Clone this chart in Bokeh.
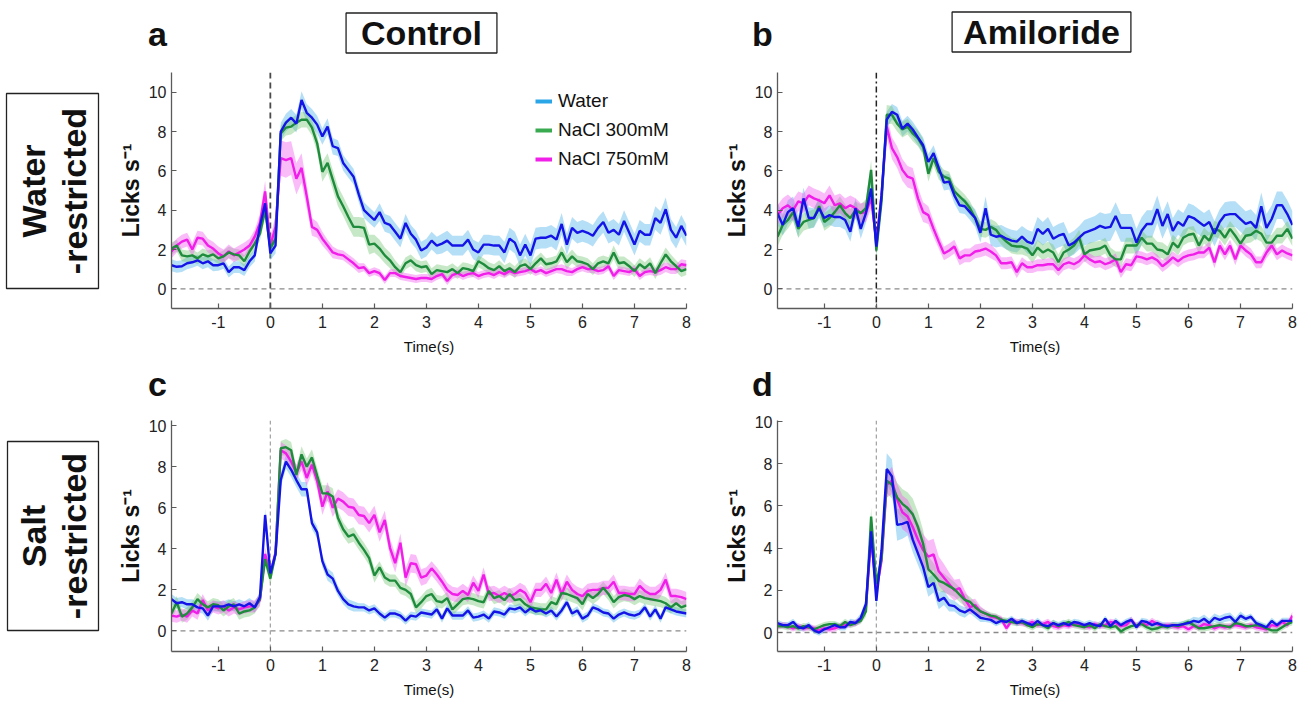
from bokeh.plotting import figure
from bokeh.layouts import row, column
from bokeh.models import Range1d, FixedTicker, Span, Label, Legend, LegendItem, BoxAnnotation
from bokeh.embed import file_html
from bokeh.resources import INLINE

# ---------------- data (licks per second, 0.1 s bins) ----------------
time_s = [round(-1.9 + 0.1 * i, 1) for i in range(100)]
x_ticks = [-1, 0, 1, 2, 3, 4, 5, 6, 7, 8]
y_ticks = [0, 2, 4, 6, 8, 10]
series_labels = ["Water", "NaCl 300mM", "NaCl 750mM"]

# panel a : Control, water-restricted
a_water = [1.2, 1.12, 1.15, 1.3, 1.35, 1.45, 1.3, 1.4, 1.2, 1.2,
           1.3, 0.85, 1.1, 1.1, 0.95, 1.4, 1.7, 3.2, 4.35, 1.8,
           2.2, 8.0, 8.45, 8.7, 8.4, 9.6, 8.95, 8.7, 8.35, 7.75,
           8.25, 7.25, 7.15, 6.4, 6.05, 5.7, 4.8, 4.0, 3.75, 3.5,
           3.9, 3.35, 3.25, 2.9, 2.55, 3.35, 2.8, 2.5, 1.95, 2.1,
           2.45, 2.2, 2.3, 2.45, 2.2, 2.2, 2.2, 2.5, 2.0, 1.85,
           2.25, 2.25, 2.2, 2.2, 1.85, 2.55, 2.35, 1.7, 2.25, 1.7,
           2.55, 2.6, 2.6, 2.7, 2.5, 3.3, 2.25, 3.1, 2.85, 2.95,
           2.85, 2.7, 3.1, 3.4, 2.85, 3.0, 2.75, 3.45, 2.85, 2.25,
           2.95, 2.75, 2.75, 3.6, 3.35, 4.05, 3.0, 2.6, 3.2, 2.7]
a_nacl300 = [2.05, 2.2, 1.7, 1.65, 1.7, 1.55, 1.75, 1.65, 1.75, 1.55,
             1.65, 1.85, 1.75, 1.7, 1.4, 1.9, 2.3, 2.8, 4.0, 2.05,
             2.55, 7.9, 8.2, 8.25, 8.45, 8.6, 8.6, 8.2, 7.4, 5.95,
             6.4, 5.55, 4.7, 4.2, 3.65, 3.15, 3.15, 3.1, 2.25, 2.3,
             2.05, 1.7, 1.45, 1.1, 0.85, 1.3, 1.45, 1.2, 1.1, 1.15,
             0.75, 0.95, 0.9, 0.85, 1.0, 0.8, 1.05, 1.0, 0.9, 1.4,
             1.25, 1.05, 0.95, 1.15, 0.9, 1.05, 0.85, 1.15, 1.25, 1.0,
             1.3, 1.55, 1.25, 1.3, 1.4, 1.85, 1.35, 1.65, 1.4, 1.35,
             1.25, 1.0, 1.3, 1.4, 1.3, 1.85, 1.3, 1.35, 1.15, 0.9,
             1.25, 1.05, 1.3, 0.8, 1.3, 1.75, 1.4, 1.15, 0.9, 1.0]
a_nacl750 = [1.9, 2.2, 2.4, 2.5, 2.0, 2.6, 2.55, 2.2, 2.05, 1.8,
             1.65, 1.9, 1.7, 1.85, 2.0, 2.2, 2.65, 3.35, 4.95, 2.2,
             3.15, 6.65, 6.55, 6.65, 5.6, 6.15, 4.7, 3.15, 3.0, 2.55,
             2.2, 1.85, 1.75, 1.7, 1.5, 1.3, 1.05, 1.1, 0.8, 0.9,
             0.8, 0.45, 0.8, 0.8, 0.65, 0.6, 0.55, 0.5, 0.55, 0.55,
             0.5, 0.65, 0.75, 0.4, 0.7, 0.8, 0.65, 0.75, 0.8, 0.65,
             0.75, 0.8, 0.7, 0.85, 0.75, 0.9, 0.8, 0.85, 0.9, 1.0,
             0.85, 0.95, 0.8, 0.9, 1.0, 1.0, 0.9, 0.85, 1.0, 1.1,
             1.0, 1.0, 0.9, 0.95, 1.15, 0.65, 0.95, 0.9, 0.85, 1.0,
             0.65, 0.85, 0.9, 0.85, 0.95, 1.1, 1.0, 1.0, 1.25, 1.2]
a_water_sem = [.30, .30, .30, .30, .28, .28, .30, .30, .30, .28,
               .28, .28, .30, .30, .30, .30, .32, .40, .45, .35,
               .40, .45, .45, .45, .45, .45, .45, .45, .45, .42,
               .42, .42, .40, .40, .40, .40, .40, .40, .40, .40,
               .45, .45, .45, .45, .45, .45, .45, .45, .45, .45,
               .45, .45, .50, .50, .50, .50, .50, .50, .50, .50,
               .50, .50, .50, .50, .55, .55, .55, .55, .55, .55,
               .55, .55, .55, .55, .55, .55, .55, .55, .55, .55,
               .55, .55, .55, .55, .55, .55, .55, .55, .55, .55,
               .55, .55, .55, .60, .60, .60, .55, .55, .55, .55]
a_nacl300_sem = [.30, .30, .30, .30, .30, .30, .30, .30, .30, .30,
                 .30, .30, .30, .30, .30, .30, .30, .35, .40, .35,
                 .35, .40, .40, .40, .40, .40, .40, .40, .45, .50,
                 .50, .50, .50, .50, .50, .50, .50, .50, .50, .45,
                 .45, .40, .40, .35, .30, .30, .30, .30, .30, .30,
                 .30, .30, .30, .30, .30, .30, .30, .30, .30, .30,
                 .30, .30, .30, .30, .30, .30, .30, .30, .30, .30,
                 .30, .30, .30, .30, .30, .35, .35, .35, .30, .30,
                 .30, .30, .30, .30, .30, .35, .35, .30, .30, .30,
                 .30, .30, .30, .30, .30, .35, .35, .30, .30, .30]
a_nacl750_sem = [.35, .35, .35, .35, .35, .35, .35, .35, .35, .35,
                 .35, .35, .35, .35, .35, .35, .35, .45, .55, .40,
                 .60, .90, .90, .85, .80, .75, .60, .45, .40, .35,
                 .30, .30, .25, .25, .25, .25, .25, .20, .20, .20,
                 .20, .20, .20, .20, .20, .20, .20, .20, .20, .20,
                 .20, .20, .20, .20, .20, .20, .20, .20, .20, .20,
                 .20, .20, .20, .20, .20, .20, .20, .20, .20, .20,
                 .20, .20, .20, .20, .20, .25, .25, .20, .20, .20,
                 .20, .20, .20, .20, .20, .20, .20, .20, .20, .20,
                 .20, .20, .20, .20, .25, .25, .25, .25, .25, .25]

# panel b : Amiloride, water-restricted
b_water = [3.85, 3.25, 3.9, 4.1, 3.15, 4.6, 3.6, 3.6, 4.1, 3.6,
           3.75, 3.65, 3.65, 3.5, 2.9, 4.1, 3.05, 3.85, 5.1, 2.15,
           4.75, 8.6, 9.0, 8.85, 8.15, 8.4, 8.1, 7.7, 7.3, 6.45,
           6.9, 6.15, 5.4, 5.45, 4.75, 4.25, 4.2, 3.9, 3.6, 2.85,
           4.1, 2.75, 2.65, 2.7, 2.55, 2.45, 2.4, 2.65, 2.4, 2.3,
           3.05, 2.8, 3.05, 2.55, 2.7, 2.8, 2.2, 2.35, 2.6, 2.85,
           2.95, 3.05, 3.2, 3.1, 3.15, 3.7, 3.1, 3.1, 3.1, 2.35,
           2.95, 3.3, 3.3, 4.05, 3.2, 3.8, 2.95, 3.4, 3.2, 3.7,
           3.6, 3.4, 3.2, 3.4, 2.8, 3.4, 3.75, 3.8, 3.8, 3.55,
           3.3, 3.4, 3.1, 4.2, 3.1, 3.55, 4.25, 4.25, 3.8, 3.25]
b_nacl300 = [2.65, 3.25, 3.5, 3.9, 3.05, 3.4, 3.5, 3.6, 4.2, 3.4,
             3.6, 3.9, 4.25, 3.85, 3.6, 4.0, 3.85, 4.1, 6.05, 1.95,
             4.45, 8.85, 8.85, 8.4, 8.1, 8.25, 7.9, 7.65, 7.2, 5.85,
             6.65, 5.95, 5.7, 5.6, 4.95, 4.7, 4.45, 4.1, 3.6, 3.05,
             3.0, 3.15, 3.0, 2.65, 2.4, 2.2, 2.15, 2.15, 2.05, 1.7,
             2.1, 1.85, 2.0, 1.85, 1.35, 1.85, 2.0, 2.2, 2.6, 1.75,
             1.95, 2.0, 2.05, 2.2, 1.7, 1.5, 1.5, 2.2, 2.2, 2.2,
             2.6, 2.3, 2.3, 2.0, 1.95, 1.75, 2.35, 2.1, 2.6, 2.75,
             2.8, 2.2, 2.7, 2.45, 3.05, 2.95, 2.6, 3.05, 2.7, 2.3,
             2.7, 2.75, 2.95, 2.8, 2.35, 2.35, 2.7, 2.7, 3.05, 2.55]
b_nacl750 = [3.75, 4.1, 4.25, 4.0, 4.45, 4.35, 4.75, 4.6, 4.5, 4.35,
             4.75, 4.25, 4.35, 4.1, 4.25, 4.1, 3.85, 3.9, 4.6, 2.4,
             4.75, 8.25, 7.15, 6.7, 6.05, 5.7, 5.6, 4.6, 3.9, 3.75,
             3.05, 2.4, 1.8, 1.95, 2.15, 1.55, 1.7, 1.7, 1.9, 1.95,
             2.05, 1.9, 1.7, 1.3, 1.3, 1.35, 0.85, 1.3, 1.1, 1.1,
             1.2, 1.2, 1.25, 1.25, 0.95, 1.25, 1.35, 1.25, 1.4, 1.7,
             1.5, 1.35, 1.4, 1.25, 1.35, 1.5, 0.85, 1.25, 1.2, 1.65,
             1.6, 1.5, 1.6, 1.45, 1.15, 1.35, 1.6, 1.4, 1.6, 1.7,
             1.75, 1.85, 1.85, 2.1, 1.35, 2.2, 1.75, 2.2, 1.5, 2.2,
             1.95, 1.75, 1.35, 1.35, 1.85, 2.2, 1.75, 1.95, 1.8, 1.7]
b_water_sem = [.55, .55, .60, .60, .55, .55, .55, .50, .50, .50,
               .50, .50, .50, .50, .50, .50, .50, .50, .55, .40,
               .45, .40, .40, .40, .40, .40, .40, .40, .40, .40,
               .40, .40, .40, .40, .40, .40, .40, .40, .45, .50,
               .60, .55, .55, .55, .55, .55, .55, .55, .60, .60,
               .60, .60, .60, .60, .60, .60, .60, .60, .60, .65,
               .65, .65, .70, .70, .70, .70, .70, .70, .70, .70,
               .70, .70, .70, .70, .65, .65, .65, .65, .65, .65,
               .65, .65, .65, .65, .65, .65, .65, .65, .65, .65,
               .65, .65, .65, .70, .70, .70, .70, .70, .70, .70]
b_nacl300_sem = [.50, .50, .45, .45, .45, .45, .45, .45, .45, .45,
                 .45, .45, .45, .45, .45, .45, .45, .45, .50, .40,
                 .40, .50, .45, .40, .40, .40, .40, .40, .40, .40,
                 .40, .40, .35, .35, .35, .35, .35, .35, .35, .40,
                 .40, .40, .40, .40, .40, .40, .40, .40, .40, .40,
                 .40, .40, .40, .40, .40, .40, .40, .40, .40, .40,
                 .40, .40, .40, .40, .40, .40, .40, .40, .40, .40,
                 .40, .40, .40, .40, .40, .40, .40, .40, .40, .40,
                 .40, .40, .40, .40, .40, .40, .40, .40, .40, .40,
                 .40, .40, .40, .40, .40, .40, .40, .40, .40, .40]
b_nacl750_sem = [.50, .50, .55, .55, .50, .50, .50, .50, .50, .50,
                 .50, .50, .50, .50, .50, .50, .50, .50, .50, .40,
                 .45, .55, .55, .55, .55, .55, .55, .55, .50, .45,
                 .40, .35, .35, .35, .35, .35, .35, .35, .35, .35,
                 .35, .35, .30, .30, .30, .30, .30, .30, .30, .30,
                 .30, .30, .30, .30, .30, .30, .30, .30, .30, .30,
                 .30, .30, .30, .30, .30, .30, .30, .30, .30, .30,
                 .30, .30, .30, .30, .30, .30, .30, .30, .30, .30,
                 .30, .30, .30, .30, .30, .30, .30, .30, .30, .30,
                 .30, .30, .30, .30, .30, .30, .30, .30, .30, .30]

# panel c : Control, salt-restricted
c_water = [1.55, 1.35, 1.4, 1.3, 1.3, 1.15, 1.1, 0.75, 1.2, 1.2,
           1.2, 1.3, 1.2, 1.3, 1.2, 1.35, 1.15, 1.65, 5.65, 2.8,
           3.75, 7.35, 8.25, 7.85, 7.35, 6.9, 6.9, 5.25, 4.8, 3.4,
           2.75, 2.55, 1.95, 1.55, 1.3, 1.2, 1.15, 1.15, 1.0, 1.1,
           0.85, 0.65, 0.85, 0.85, 0.75, 0.5, 0.75, 0.7, 0.9, 0.85,
           0.8, 1.05, 0.6, 1.1, 0.75, 0.75, 0.75, 1.0, 0.65, 0.7,
           0.8, 0.6, 0.95, 0.9, 0.8, 1.1, 1.05, 1.15, 0.9, 1.1,
           0.95, 1.0, 0.85, 1.0, 0.7, 1.0, 1.4, 0.85, 1.0, 0.6,
           0.75, 1.15, 1.05, 0.9, 0.85, 0.6, 0.8, 0.9, 0.8, 0.75,
           0.85, 1.15, 0.7, 1.05, 0.6, 1.15, 1.05, 0.95, 0.9, 0.85]
c_nacl300 = [0.85, 1.4, 0.7, 0.85, 1.15, 1.55, 1.3, 1.15, 1.3, 1.25,
             1.0, 1.2, 1.3, 0.85, 0.95, 1.0, 1.15, 1.55, 3.5, 2.55,
             3.75, 8.9, 8.95, 8.8, 7.6, 8.6, 8.0, 8.45, 7.55, 6.7,
             6.7, 6.55, 5.5, 4.95, 4.6, 4.7, 4.3, 3.95, 3.55, 2.7,
             3.1, 2.6, 2.45, 2.45, 2.1, 2.0, 1.8, 1.15, 1.4, 1.7,
             1.8, 1.45, 1.4, 1.6, 1.05, 1.3, 1.55, 1.6, 1.55, 1.45,
             1.4, 1.95, 1.6, 1.7, 1.5, 1.8, 1.5, 1.55, 1.3, 1.15,
             1.1, 1.05, 1.05, 1.4, 1.3, 1.85, 1.8, 1.7, 1.6, 1.3,
             1.8, 1.6, 1.8, 2.1, 1.8, 1.4, 1.65, 1.75, 1.7, 1.55,
             1.7, 1.6, 1.55, 1.5, 1.45, 1.35, 1.15, 1.35, 1.15, 1.25]
c_nacl750 = [0.75, 0.7, 0.8, 0.7, 1.0, 0.85, 1.5, 1.0, 1.2, 1.1,
             1.2, 1.0, 1.15, 1.05, 1.15, 1.2, 1.2, 1.5, 3.75, 2.75,
             3.8, 8.8, 8.65, 8.25, 7.7, 8.25, 7.45, 8.1, 7.3, 6.05,
             6.8, 6.0, 6.45, 6.3, 6.05, 6.0, 5.65, 5.6, 5.25, 5.65,
             4.8, 5.4, 4.05, 3.3, 4.3, 2.6, 3.3, 3.25, 2.6, 2.7,
             3.05, 2.75, 2.4, 2.0, 1.8, 1.75, 1.95, 1.75, 2.35, 1.95,
             2.75, 1.8, 1.85, 1.7, 1.85, 1.7, 1.8, 2.0, 1.85, 1.4,
             2.0, 2.0, 2.3, 1.85, 2.5, 1.8, 2.4, 2.0, 1.8, 1.7,
             1.95, 2.0, 2.0, 2.1, 2.1, 2.4, 1.85, 1.85, 1.8, 1.8,
             2.2, 1.95, 1.8, 1.8, 2.0, 2.5, 1.7, 1.7, 1.65, 1.55]
c_water_sem = [.25, .25, .25, .25, .25, .25, .25, .25, .25, .25,
               .25, .25, .25, .25, .25, .25, .25, .25, .30, .30,
               .30, .35, .35, .35, .35, .35, .35, .30, .30, .30,
               .30, .30, .25, .25, .25, .25, .20, .20, .20, .20,
               .20, .20, .20, .20, .20, .20, .20, .20, .20, .20,
               .20, .20, .20, .20, .20, .20, .20, .20, .20, .20,
               .20, .20, .20, .20, .20, .20, .20, .20, .20, .20,
               .20, .20, .20, .20, .20, .20, .20, .20, .20, .20,
               .20, .20, .20, .20, .20, .20, .20, .20, .20, .20,
               .20, .20, .20, .20, .20, .20, .20, .20, .20, .20]
c_nacl300_sem = [.30, .30, .30, .30, .30, .30, .30, .30, .30, .30,
                 .30, .30, .30, .30, .30, .30, .30, .30, .30, .30,
                 .30, .35, .40, .40, .40, .40, .40, .40, .40, .40,
                 .40, .40, .35, .35, .35, .35, .35, .35, .35, .35,
                 .30, .30, .30, .30, .30, .30, .30, .30, .30, .30,
                 .30, .30, .30, .30, .30, .30, .30, .30, .30, .30,
                 .30, .30, .30, .30, .30, .30, .30, .30, .30, .30,
                 .30, .30, .30, .30, .30, .30, .30, .30, .30, .30,
                 .30, .30, .30, .30, .30, .30, .30, .30, .30, .30,
                 .30, .30, .30, .30, .30, .30, .30, .30, .30, .30]
c_nacl750_sem = [.30, .30, .30, .30, .30, .30, .30, .30, .30, .30,
                 .30, .30, .30, .30, .30, .30, .30, .30, .30, .30,
                 .30, .40, .40, .40, .40, .40, .40, .40, .40, .40,
                 .45, .45, .45, .45, .45, .45, .45, .45, .45, .45,
                 .45, .45, .45, .45, .45, .45, .45, .45, .40, .40,
                 .35, .35, .35, .35, .35, .35, .35, .35, .35, .35,
                 .35, .35, .35, .35, .35, .35, .35, .35, .35, .35,
                 .35, .35, .35, .35, .35, .35, .35, .35, .35, .35,
                 .35, .35, .35, .35, .35, .35, .35, .35, .35, .35,
                 .35, .35, .35, .35, .35, .35, .35, .35, .35, .35]

# panel d : Amiloride, salt-restricted
d_water = [0.45, 0.35, 0.35, 0.5, 0.25, 0.2, 0.35, 0.1, 0.0, 0.15,
           0.25, 0.35, 0.25, 0.25, 0.5, 0.45, 0.7, 1.35, 4.8, 1.5,
           3.9, 7.75, 7.4, 5.1, 5.15, 5.25, 4.4, 3.75, 3.1, 2.15,
           2.35, 1.5, 1.65, 1.3, 1.25, 1.05, 0.95, 1.1, 0.9, 0.7,
           0.65, 0.6, 0.45, 0.55, 0.5, 0.65, 0.45, 0.55, 0.45, 0.35,
           0.55, 0.35, 0.3, 0.45, 0.35, 0.45, 0.35, 0.5, 0.45, 0.35,
           0.45, 0.35, 0.3, 0.65, 0.3, 0.55, 0.35, 0.5, 0.6, 0.25,
           0.55, 0.5, 0.35, 0.45, 0.35, 0.3, 0.35, 0.35, 0.4, 0.45,
           0.55, 0.5, 0.65, 0.45, 0.7, 0.6, 0.7, 0.75, 0.5, 0.8,
           0.65, 0.75, 0.45, 0.35, 0.25, 0.55, 0.35, 0.55, 0.55, 0.55]
d_nacl300 = [0.3, 0.3, 0.25, 0.3, 0.2, 0.3, 0.25, 0.15, 0.25, 0.35,
             0.4, 0.4, 0.3, 0.5, 0.35, 0.45, 0.55, 1.0, 5.5, 2.3,
             3.5, 7.2, 7.0, 6.4, 6.1, 5.9, 5.6, 5.0, 4.2, 3.0,
             2.75, 2.45, 2.35, 2.2, 2.05, 1.8, 1.55, 1.45, 1.2, 1.0,
             0.9, 0.8, 0.75, 0.6, 0.55, 0.5, 0.45, 0.5, 0.35, 0.25,
             0.4, 0.35, 0.2, 0.45, 0.3, 0.4, 0.5, 0.35, 0.3, 0.25,
             0.35, 0.2, 0.4, 0.3, 0.25, 0.3, 0.05, 0.2, 0.3, 0.35,
             0.4, 0.25, 0.15, 0.2, 0.3, 0.25, 0.35, 0.3, 0.4, 0.5,
             0.35, 0.2, 0.2, 0.25, 0.3, 0.35, 0.3, 0.25, 0.45, 0.4,
             0.3, 0.3, 0.35, 0.3, 0.2, 0.1, 0.1, 0.25, 0.4, 0.5]
d_nacl750 = [0.3, 0.35, 0.3, 0.2, 0.3, 0.2, 0.25, 0.2, 0.1, 0.2,
             0.15, 0.2, 0.3, 0.35, 0.4, 0.45, 0.6, 1.2, 4.5, 2.0,
             3.4, 7.0, 7.2, 6.3, 5.7, 5.5, 5.0, 4.4, 3.9, 3.6,
             3.7, 2.9, 2.6, 2.3, 2.0, 2.1, 1.6, 1.2, 1.3, 1.0,
             0.9, 0.75, 0.7, 0.65, 0.2, 0.55, 0.5, 0.45, 0.4, 0.5,
             0.35, 0.4, 0.5, 0.3, 0.25, 0.35, 0.3, 0.4, 0.35, 0.3,
             0.25, 0.4, 0.3, 0.35, 0.5, 0.45, 0.3, 0.35, 0.6, 0.3,
             0.45, 0.35, 0.55, 0.4, 0.3, 0.35, 0.3, 0.25, 0.3, 0.15,
             0.3, 0.25, 0.4, 0.35, 0.2, 0.3, 0.25, 0.3, 0.35, 0.3,
             0.25, 0.35, 0.25, 0.2, 0.15, 0.35, 0.3, 0.5, 0.35, 0.8]
d_water_sem = [.15, .15, .15, .15, .15, .15, .15, .15, .15, .15,
               .15, .15, .15, .15, .15, .15, .20, .25, .45, .35,
               .40, .75, .80, .75, .70, .65, .60, .55, .50, .45,
               .45, .40, .35, .30, .25, .25, .25, .20, .20, .20,
               .15, .15, .15, .15, .15, .15, .15, .15, .15, .15,
               .15, .15, .15, .15, .15, .15, .15, .15, .15, .15,
               .15, .15, .15, .15, .15, .15, .15, .15, .15, .15,
               .15, .15, .15, .15, .15, .15, .15, .15, .15, .15,
               .20, .20, .20, .20, .20, .20, .20, .20, .20, .20,
               .15, .15, .15, .15, .15, .15, .15, .15, .15, .15]
d_nacl300_sem = [.15, .15, .15, .15, .15, .15, .15, .15, .15, .15,
                 .15, .15, .15, .15, .15, .15, .15, .25, .40, .30,
                 .40, .60, .65, .70, .70, .75, .75, .70, .65, .60,
                 .55, .50, .45, .40, .35, .35, .30, .25, .25, .20,
                 .15, .15, .15, .15, .15, .15, .15, .15, .15, .15,
                 .15, .15, .15, .15, .15, .15, .15, .15, .15, .15,
                 .15, .15, .15, .15, .15, .15, .15, .15, .15, .15,
                 .15, .15, .15, .15, .15, .15, .15, .15, .15, .15,
                 .15, .15, .15, .15, .15, .15, .15, .15, .15, .15,
                 .15, .15, .15, .15, .15, .15, .15, .15, .15, .15]
d_nacl750_sem = [.15, .15, .15, .15, .15, .15, .15, .15, .15, .15,
                 .15, .15, .15, .15, .15, .15, .15, .25, .40, .30,
                 .40, .60, .65, .75, .80, .80, .80, .80, .75, .75,
                 .75, .70, .65, .55, .50, .45, .40, .35, .30, .25,
                 .15, .15, .15, .15, .15, .15, .15, .15, .15, .15,
                 .15, .15, .15, .15, .15, .15, .15, .15, .15, .15,
                 .15, .15, .15, .15, .15, .15, .15, .15, .15, .15,
                 .15, .15, .15, .15, .15, .15, .15, .15, .15, .15,
                 .15, .15, .15, .15, .15, .15, .15, .15, .15, .15,
                 .15, .15, .15, .15, .15, .15, .15, .15, .15, .20]

# ---------------- styling ----------------
FONT = "Liberation Sans"
LINE_COLORS = ["#1414e6", "#1e8c3c", "#f01ee8"]
BAND_COLORS = ["#4fb3ea", "#6cc36c", "#f25cf0"]
BAND_ALPHAS = [0.42, 0.38, 0.42]
LEGEND_COLORS = ["#2aa5e6", "#3aaa50", "#f020e8"]
TICK_TEXT = {-1: "-1"}


def make_panel(width, height, b_left, b_right, b_top, b_bottom, y_lo, y_hi,
               means, sems, vline_color, vline_dash, vline_width):
    p = figure(width=width, height=height,
               x_range=Range1d(-1.9, 8.0), y_range=Range1d(y_lo, y_hi),
               output_backend="svg", toolbar_location=None,
               min_border_left=b_left, min_border_right=b_right,
               min_border_top=b_top, min_border_bottom=b_bottom)
    p.outline_line_color = None
    p.xgrid.visible = False
    p.ygrid.visible = False
    p.background_fill_color = "white"
    p.border_fill_color = "white"
    for ax in (p.xaxis[0], p.yaxis[0]):
        ax.axis_line_color = "#5a5a5a"
        ax.axis_line_width = 1.3
        ax.major_tick_line_color = "#5a5a5a"
        ax.major_tick_line_width = 1.2
        ax.major_tick_in = 5
        ax.major_tick_out = 0
        ax.minor_tick_in = 0
        ax.minor_tick_out = 0
        ax.major_label_text_font = FONT
        ax.major_label_text_font_size = "16px"
        ax.major_label_text_color = "#222222"
        ax.axis_label_text_font = FONT
        ax.axis_label_text_color = "#111111"
    p.xaxis.ticker = FixedTicker(ticks=x_ticks)
    p.yaxis.ticker = FixedTicker(ticks=y_ticks)
    p.xaxis.major_label_overrides = dict(TICK_TEXT)
    p.xaxis.axis_label = "Time(s)"
    p.xaxis.axis_label_text_font_size = "15px"
    p.xaxis.axis_label_text_font_style = "normal"
    p.xaxis.major_label_standoff = 7
    p.xaxis.axis_label_standoff = 7
    p.yaxis.axis_label = "Licks s\u207b\u00b9"
    p.yaxis.axis_label_text_font_size = "23px"
    p.yaxis.axis_label_text_font_style = "bold"
    p.yaxis.major_label_standoff = 5
    p.yaxis.axis_label_standoff = 2

    p.add_layout(Span(location=0, dimension="width", line_color="#8a8a8a",
                      line_dash="5 4", line_width=1.3, level="underlay"))
    p.add_layout(Span(location=0, dimension="height", line_color=vline_color,
                      line_dash=vline_dash, line_width=vline_width, level="underlay"))

    for mean, sem, col, alpha in zip(means, sems, BAND_COLORS, BAND_ALPHAS):
        lo = [m - s for m, s in zip(mean, sem)]
        hi = [m + s for m, s in zip(mean, sem)]
        p.varea(x=time_s, y1=lo, y2=hi, fill_color=col, fill_alpha=alpha)
    for mean, col in list(zip(means, LINE_COLORS))[::-1]:
        p.line(time_s, mean, line_color=col, line_width=2.4)
    return p


def canvas(width, height):
    c = figure(width=width, height=height, x_range=Range1d(0, width), y_range=Range1d(0, height),
               x_axis_type=None, y_axis_type=None, output_backend="svg",
               toolbar_location=None, min_border=0)
    c.outline_line_color = None
    c.background_fill_color = "white"
    c.border_fill_color = "white"
    return c


def text_label(x, y, text, size, bold=True, **kw):
    return Label(x=x, y=y, x_units="screen", y_units="screen", text=text,
                 text_font=FONT, text_font_size=size,
                 text_font_style="bold" if bold else "normal",
                 text_color="#111111", text_align="center", text_baseline="middle", **kw)


def frame_box(left, right, bottom, top):
    return BoxAnnotation(left=left, right=right, bottom=bottom, top=top,
                         left_units="screen", right_units="screen",
                         bottom_units="screen", top_units="screen",
                         fill_color="white", fill_alpha=1.0,
                         line_color="#222222", line_alpha=1.0, line_width=1.3)


BOX = dict(border_line_color="#222222", border_line_width=1.3, background_fill_color="white")

# header strip (panel letters a, b and column titles)
hdr = canvas(1303, 62)
hdr.add_layout(text_label(157, 29, "a", "34px"))
hdr.add_layout(text_label(421, 29.5, "Control", "34px",
                          padding=dict(left=15, right=15, top=1, bottom=1), **BOX))
hdr.add_layout(text_label(762, 29, "b", "34px"))
hdr.add_layout(text_label(1041, 30.5, "Amiloride", "34px",
                          padding=dict(left=11, right=11, top=1, bottom=1), **BOX))

# row label canvases (their frames are aligned with the panels' frames in each row)
lab1 = canvas(108, 303)
lab1.add_layout(frame_box(6, 98, 20, 215))
lab1.add_layout(text_label(33, 117.5, "Water", "34px", angle=1.5708))
lab1.add_layout(text_label(74, 117.5, "-restricted", "34px", angle=1.5708))
lab2 = canvas(108, 300)
lab2.add_layout(frame_box(7, 98, 21, 210))
lab2.add_layout(text_label(33, 115.5, "Salt", "34px", angle=1.5708))
lab2.add_layout(text_label(74, 115.5, "-restricted", "34px", angle=1.5708))

# strip between rows (panel letters c, d)
mid = canvas(1303, 38)
mid.add_layout(text_label(157, 20, "c", "34px"))
mid.add_layout(text_label(762, 20, "d", "34px"))

# panel a
fa = make_panel(606, 303, 63, 28, 10, 57, -1, 11,
                [a_water, a_nacl300, a_nacl750], [a_water_sem, a_nacl300_sem, a_nacl750_sem],
                "#4a4a4a", "6 4", 1.8)
nan = float("nan")
dummies = [fa.line([time_s[0]], [nan], line_color=c, line_width=4) for c in LEGEND_COLORS]
legend = Legend(items=[LegendItem(label=n, renderers=[r]) for n, r in zip(series_labels, dummies)],
                location=(364, 136), padding=0, margin=0, spacing=3,
                glyph_width=17, glyph_height=26, label_height=26, label_standoff=6,
                label_text_font=FONT, label_text_font_size="19px", label_text_color="#111111",
                border_line_color=None, background_fill_alpha=0)
fa.add_layout(legend)

# panel b
fb = make_panel(589, 303, 63, 11, 10, 57, -1, 11,
                [b_water, b_nacl300, b_nacl750], [b_water_sem, b_nacl300_sem, b_nacl750_sem],
                "#222222", "6 3 2 3", 1.5)

# panel c
fc = make_panel(606, 300, 63, 28, 17, 52, -1, 10.25,
                [c_water, c_nacl300, c_nacl750], [c_water_sem, c_nacl300_sem, c_nacl750_sem],
                "#a0a0a0", "4 3", 1.2)

# panel d
fd = make_panel(589, 300, 63, 11, 17, 52, -0.9, 10.05,
                [d_water, d_nacl300, d_nacl750], [d_water_sem, d_nacl300_sem, d_nacl750_sem],
                "#a0a0a0", "4 3", 1.2)

layout = column(hdr, row(lab1, fa, fb), mid, row(lab2, fc, fd))
open("out.html", "w").write(file_html(layout, INLINE))
